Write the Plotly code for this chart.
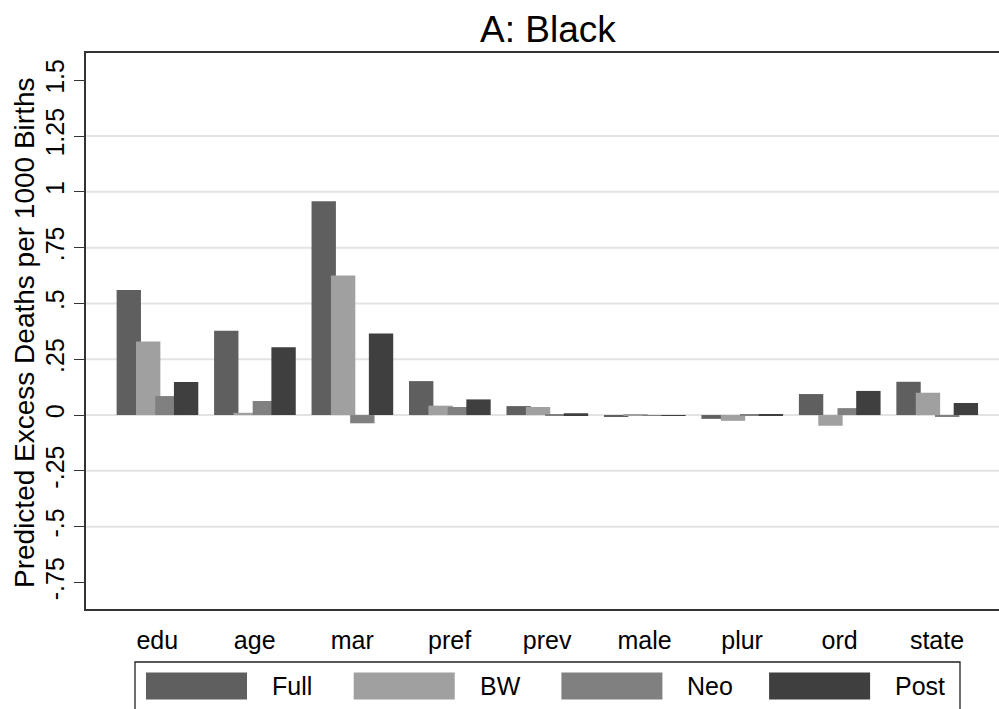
import plotly.graph_objects as go

# Predicted excess deaths per 1000 births, by covariate and model
categories = ["edu", "age", "mar", "pref", "prev", "male", "plur", "ord", "state"]
full = [0.560, 0.378, 0.958, 0.152, 0.040, -0.006, -0.017, 0.094, 0.149]
bw = [0.330, 0.010, 0.625, 0.042, 0.036, 0.002, -0.026, -0.048, 0.100]
neo = [0.085, 0.063, -0.037, 0.036, 0.002, -0.003, 0.002, 0.031, -0.005]
post = [0.148, 0.304, 0.365, 0.070, 0.008, -0.004, 0.003, 0.108, 0.054]

series_names = ["Full", "BW", "Neo", "Post"]
series_colors = ["#5f5f5f", "#a0a0a0", "#808080", "#3f3f3f"]
series_values = [full, bw, neo, post]

tick_vals = [-0.75, -0.5, -0.25, 0, 0.25, 0.5, 0.75, 1, 1.25, 1.5]
tick_text = ["-.75", "-.5", "-.25", "0", ".25", ".5", ".75", "1", "1.25", "1.5"]

FONT = "Liberation Sans, Arial, sans-serif"
W, H = 999, 709
L, R, T, B = 86, 0, 53, 100
PW, PH = W - L - R, H - T - B


def px(x):
    return (x - L) / PW


def py(y):
    return (H - B - y) / PH


bar_offsets = [-0.417, -0.218, -0.021, 0.171]
bar_width = 0.25

fig = go.Figure()
for name, color, vals, off in zip(series_names, series_colors, series_values, bar_offsets):
    fig.add_trace(go.Bar(
        x=categories, y=vals, name=name,
        marker=dict(color=color, line=dict(width=0)),
        offset=off, width=bar_width, showlegend=False,
    ))

shapes = []
# horizontal grid at the inner ticks
for v in tick_vals[1:-1]:
    shapes.append(dict(type="line", xref="paper", yref="y", x0=0, x1=1, y0=v, y1=v,
                       line=dict(color="#e3e3e3", width=2), layer="below"))

# legend frame and swatches
shapes.append(dict(type="rect", xref="paper", yref="paper",
                   x0=px(135), x1=px(960), y0=py(716), y1=py(662),
                   line=dict(color="#222222", width=1.3), fillcolor="white"))
annotations = []
for i, (name, color) in enumerate(zip(series_names, series_colors)):
    left = 146 + i * 207.7
    shapes.append(dict(type="rect", xref="paper", yref="paper",
                       x0=px(left), x1=px(left + 101), y0=py(699.5), y1=py(672.5),
                       line=dict(width=0), fillcolor=color))
    annotations.append(dict(text=name, xref="paper", yref="paper",
                            x=px(left + 124), y=py(686), xanchor="left", yanchor="middle",
                            showarrow=False, font=dict(family=FONT, size=25, color="#000000")))

annotations.append(dict(text="A: Black", xref="paper", yref="paper",
                        x=px(548), y=py(29), xanchor="center", yanchor="middle",
                        showarrow=False, font=dict(family=FONT, size=37, color="#000000")))
annotations.append(dict(text="Predicted Excess Deaths per 1000 Births", xref="paper", yref="paper",
                        x=px(24), y=py(333), xanchor="center", yanchor="middle", textangle=-90,
                        showarrow=False, font=dict(family=FONT, size=28, color="#000000")))

fig.update_layout(
    width=W, height=H,
    margin=dict(l=L, r=R, t=T, b=B),
    paper_bgcolor="white", plot_bgcolor="white",
    barmode="overlay",
    font=dict(family=FONT, color="#000000"),
    shapes=shapes, annotations=annotations,
    showlegend=False,
)
fig.update_xaxes(
    type="category", range=[-0.731, 8.636],
    showgrid=False, zeroline=False,
    showline=True, linecolor="#333333", linewidth=2, mirror=True,
    ticks="", tickfont=dict(family=FONT, size=25, color="#000000"),
    ticklabelstandoff=8,
)
fig.update_yaxes(
    range=[-0.869, 1.622],
    tickvals=tick_vals, ticktext=tick_text, tickangle=-90,
    showgrid=False, zeroline=False,
    showline=True, linecolor="#333333", linewidth=2,
    ticks="outside", ticklen=10, tickwidth=1.3, tickcolor="#333333",
    tickfont=dict(family=FONT, size=25, color="#000000"),
)

fig.write_html("out.html")
